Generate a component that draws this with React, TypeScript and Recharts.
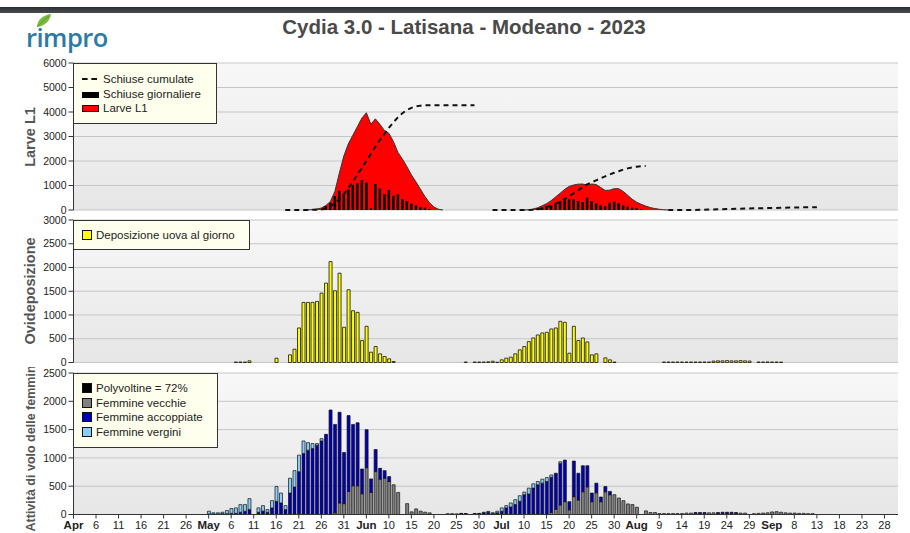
import React from 'react';
import { ComposedChart, Area, Bar, Line, XAxis, YAxis, CartesianGrid } from 'recharts';

// ---- x axis: days counted from 1 April 2023 ----
const DAY_MAX = 183;
const tickDays = [0, 5, 10, 15, 20, 25, 30, 35, 40, 45, 50, 55, 60, 65, 70, 75, 80, 85, 90, 95, 100, 105, 110, 115, 120, 125, 130, 135, 140, 145, 150, 155, 160, 165, 170, 175, 180];
const tickLabels = ['Apr', '6', '11', '16', '21', '26', 'May', '6', '11', '16', '21', '26', '31', 'Jun', '10', '15', '20', '25', '30', 'Jul', '10', '15', '20', '25', '30', 'Aug', '9', '14', '19', '24', '29', 'Sep', '8', '13', '18', '23', '28'];
const monthLabels = ['Apr', 'May', 'Jun', 'Jul', 'Aug', 'Sep'];

// ---- panel 1: Larve L1 ----
const larveTicks = [0, 1000, 2000, 3000, 4000, 5000, 6000];
const larveGen1Start = 51;
const larveGen1 = [0, 5, 15, 40, 80, 180, 340, 750, 1500, 2200, 2700, 3050, 3400, 3750, 3970, 3500, 3720, 3500, 3250, 3130, 2800, 2350, 2080, 1770, 1430, 1150, 850, 550, 300, 120, 30, 0];
const larveGen2Start = 100;
const larveGen2 = [0, 10, 40, 90, 170, 260, 380, 530, 680, 840, 960, 1020, 1055, 1060, 1020, 1060, 1040, 920, 800, 810, 870, 870, 760, 600, 440, 320, 230, 160, 100, 60, 30, 10, 0];

const schiuseGen1Start = 56;
const schiuseGen1 = [163, 300, 571, 789, 653, 844, 1020, 1088, 1224, 1116, 68, 1061, 871, 639, 816, 585, 639, 435, 367, 258, 190, 109, 95, 41, 10];
const schiuseGen2Start = 103;
const schiuseGen2 = [68, 109, 163, 190, 258, 367, 462, 435, 435, 367, 326, 503, 367, 272, 190, 163, 299, 340, 272, 190, 136, 95, 68, 30];

const cumulateGen1Start = 47;
const cumulateGen1 = [0, 0, 0, 0, 0, 5, 10, 15, 25, 60, 150, 280, 450, 650, 900, 1150, 1450, 1700, 2000, 2300, 2580, 2850, 3100, 3350, 3580, 3780, 3950, 4080, 4170, 4230, 4260, 4275, 4280, 4280, 4280, 4280, 4280, 4280, 4280, 4280, 4280, 4280, 4280];
const cumulateGen2Start = 93;
const cumulateGen2 = [0, 0, 0, 0, 0, 0, 0, 0, 5, 15, 30, 60, 110, 180, 260, 340, 450, 560, 680, 800, 930, 1050, 1130, 1210, 1290, 1370, 1450, 1520, 1580, 1650, 1700, 1740, 1770, 1790, 1800];
const cumulateGen3Start = 132;
const cumulateGen3 = [0, 0, 0, 0, 0, 0, 5, 8, 15, 18, 25, 30, 34, 40, 44, 50, 56, 60, 64, 70, 73, 76, 78, 82, 86, 90, 96, 100, 103, 106, 108, 110, 112, 112];

// ---- panel 2: Ovideposizione ----
const uovaTicks = [0, 500, 1000, 1500, 2000, 2500, 3000];
const uovaGen1Start = 36;
const uovaGen1 = [10, 10, 10, 35, null, null, null, null, null, 90, null, null, 161, 280, 727, 1265, 1265, 1265, 1286, 1461, 1671, 2125, 1510, 1881, 741, 1531, 1090, 1055, 462, 762, 217, 336, 182, 126, 77, 21];
const uovaGen2Start = 87;
const uovaGen2 = [10, null, 10, 10, 10, 15, 27, 5, 56, 91, 112, 182, 266, 336, 440, 517, 580, 622, 636, 706, 727, 867, 846, 196, 762, 462, 517, 433, 161, 182, null, 98, 56, 10];
const uovaGen3Start = 131;
const uovaGen3 = [10, 10, 10, 10, 10, 10, 10, 10, 10, 10, 10, 30, 35, 35, 40, 35, 35, 40, 35, 30, null, 10, 10, 12, 10, 10, 8];

// ---- panel 3: Attività di volo delle femmine ----
const voloTicks = [0, 500, 1000, 1500, 2000, 2500];
const voloGen1Start = 30;
const vecchieGen1 = [0, 0, 0, 0, 0, 0, 0, 0, 0, 0, null, 0, 0, 0, 0, 0, 0, 0, 0, 0, 0, 0, 0, 0, 0, 0, 0, 0, 30, 204, 192, 408, 507, 507, 367, 827, 390, 758, 624, 641, 583, 525, 390, null, 192, 47, 99, 58, 41, 29];
const accoppiateGen1 = [10, 10, 10, 15, 15, 20, 20, 40, 58, 90, null, 40, 60, 40, 117, 233, 204, 87, 379, 484, 757, 1078, 1136, 1165, 1224, 1300, 1416, 1847, 1561, 1602, 904, 1340, 1084, 1113, 437, 671, 239, 390, 192, 134, 87, 0, 0, null, 0, 0, 0, 0, 0, 0];
const verginiGen1 = [48, 20, 20, 25, 55, 85, 97, 135, 117, 190, null, 77, 97, 47, 128, 262, 175, 70, 262, 291, 292, 221, 134, 88, 29, 40, 0, 0, 0, 0];
const voloGen2Start = 83;
const vecchieGen2 = [15, 15, 12, 15, 12, null, 10, 10, 0, 0, 0, 0, 0, 0, 0, 0, 0, 0, 0, 0, 0, 0, 0, 35, 93, 169, 227, 82, 315, 256, 402, 489, 227, 384, 227, 402, 350, 350, 291, 245, 187, 175, 128, null, 64, 35, 35, 17, 17, 17, 17, 17, 17, 25, 25, 20, 20, 20, 30, 30, 20, 20, 20, 20, 20, 25, 25, null, 15, 20, 25, 30, 45, 50, 40, 30, 25, 25, 20, 20, 15, 15];
const accoppiateGen2 = [0, 0, 0, 5, 5, null, 8, 10, 30, 40, 20, 30, 58, 117, 134, 175, 233, 350, 361, 466, 524, 554, 583, 624, 636, 734, 734, 145, 629, 473, 460, 373, 152, 170, 82, 93, 58, 0, 0, 0, 0, 0, 0, null, 0, 0, 0, 0, 0, 0, 0, 0, 0, 0, 0, 15, 15, 15, 0, 0, 15, 20, 20, 20, 15, 0, 0, null];
const verginiGen2 = [0, 0, 0, 0, 0, null, 0, 0, 10, 15, 10, 28, 59, 40, 70, 87, 99, 46, 105, 76, 59, 70, 70, 40, 0, 29];

const W = 910;
const H = 533;
const PLOT_RIGHT = 898;
const PLOT_LEFT = 73.5;
const FONT = '"Liberation Sans", Arial, sans-serif';

type Seg = [number, (number | null)[]];

const pick = (d: number, ...segs: Seg[]) => {
  for (const [start, values] of segs) {
    const i = d - start;
    if (i >= 0 && i < values.length) return values[i];
  }
  return null;
};

const rows = Array.from({ length: DAY_MAX + 1 }, (_, d) => ({
  day: d,
  larve: pick(d, [larveGen1Start, larveGen1], [larveGen2Start, larveGen2]),
  schiuse: pick(d, [schiuseGen1Start, schiuseGen1], [schiuseGen2Start, schiuseGen2]) ?? 0,
  cumulate: pick(d, [cumulateGen1Start, cumulateGen1], [cumulateGen2Start, cumulateGen2], [cumulateGen3Start, cumulateGen3]),
  uova: pick(d, [uovaGen1Start, uovaGen1], [uovaGen2Start, uovaGen2], [uovaGen3Start, uovaGen3]) ?? 0,
  vecchie: pick(d, [voloGen1Start, vecchieGen1], [voloGen2Start, vecchieGen2]) ?? 0,
  accoppiate: pick(d, [voloGen1Start, accoppiateGen1], [voloGen2Start, accoppiateGen2]) ?? 0,
  vergini: pick(d, [voloGen1Start, verginiGen1], [voloGen2Start, verginiGen2]) ?? 0,
}));

const DateTick = (props: any) => {
  const { x, y, payload } = props;
  const label = tickLabels[tickDays.indexOf(payload.value)];
  const bold = monthLabels.includes(label);
  return (
    <text x={x} y={y + 8} textAnchor="middle" fontSize={bold ? 11.5 : 11} fontWeight={bold ? 'bold' : 'normal'} fill="#222" fontFamily={FONT}>
      {label}
    </text>
  );
};

interface PanelProps {
  id: string;
  plotTop: number;
  plotBottom: number;
  yTicks: number[];
  showDates?: boolean;
  children: React.ReactNode;
}

const Panel = ({ id, plotTop, plotBottom, yTicks, showDates = false, children }: PanelProps) => {
  const yMax = yTicks[yTicks.length - 1];
  const axisH = showDates ? 18 : 0;
  return (
    <div style={{ position: 'absolute', left: 0, top: 0 }}>
      <ComposedChart
        width={W}
        height={H}
        data={rows}
        margin={{ top: plotTop, right: W - PLOT_RIGHT, bottom: H - plotBottom - axisH, left: 0 }}
      >
        <defs>
          <linearGradient id={`bg-${id}`} x1="0" y1="0" x2="0" y2="1">
            <stop offset="0%" stopColor="#f8f8f8" />
            <stop offset="100%" stopColor="#e6e6e6" />
          </linearGradient>
        </defs>
        <CartesianGrid vertical={false} stroke="#c6c6c6" fill={`url(#bg-${id})`} fillOpacity={1} />
        <XAxis
          dataKey="day"
          type="number"
          domain={[0, DAY_MAX]}
          ticks={tickDays}
          interval={0}
          allowDataOverflow
          height={axisH}
          tick={showDates ? <DateTick /> : false}
          tickLine={showDates ? { stroke: '#333' } : false}
          tickSize={4}
          axisLine={{ stroke: '#333' }}
        />
        <XAxis xAxisId="frame" orientation="top" type="number" domain={[0, DAY_MAX]} height={0} tick={false} tickLine={false} axisLine={{ stroke: '#333' }} />
        <YAxis
          type="number"
          domain={[0, yMax]}
          ticks={yTicks}
          interval={0}
          width={PLOT_LEFT}
          tick={{ fontSize: 10.5, fill: '#222', fontFamily: FONT }}
          tickLine={{ stroke: '#333' }}
          tickSize={5}
          tickMargin={2}
          axisLine={{ stroke: '#333' }}
        />
        <YAxis yAxisId="frame" orientation="right" type="number" domain={[0, yMax]} width={0} tick={false} tickLine={false} axisLine={{ stroke: '#333' }} />
        {children}
      </ComposedChart>
    </div>
  );
};

const legendText: React.CSSProperties = { fontFamily: FONT, fontSize: 11.5, color: '#222', whiteSpace: 'nowrap', lineHeight: '14.5px' };

const LegendBox = ({ left, top, width, height, children }: any) => (
  <div style={{ position: 'absolute', left, top, width, height, boxSizing: 'border-box', background: '#ffffee', border: '1px solid #333' }}>
    {children}
  </div>
);

const Swatch = ({ color }: { color: string }) => (
  <span style={{ display: 'inline-block', width: 8, height: 8, background: color, border: '1px solid #111', marginRight: 4, verticalAlign: -1 }} />
);

const AxisTitle = ({ cx, cy, text, size }: { cx: number; cy: number; text: string; size: number }) => (
  <div
    style={{
      position: 'absolute', left: cx, top: cy, transform: 'translate(-50%, -50%) rotate(-90deg)',
      fontFamily: FONT, fontWeight: 'bold', fontSize: size, color: '#555', whiteSpace: 'nowrap', lineHeight: 1,
    }}
  >
    {text}
  </div>
);

export default function App() {
  return (
    <div style={{ position: 'absolute', left: 0, top: 0, width: W, height: H, background: '#fff', overflow: 'hidden' }}>
      <div style={{ position: 'absolute', left: 0, top: 7, width: W, height: 6, background: 'linear-gradient(#2c2f32, #4a4d50)' }} />

      {/* logo */}
      <svg style={{ position: 'absolute', left: 34, top: 13 }} width={20} height={16}>
        <path d="M3 14 C3 7 9 2 17 1 C16 8 11 13 3 14 Z" fill="#7cb940" />
        <path d="M3 14 C7 10 11 6 15 3" stroke="#5a9a2c" strokeWidth={1} fill="none" />
      </svg>
      <div style={{ position: 'absolute', left: 26, top: 20, fontFamily: '"Open Sans", "Liberation Sans", sans-serif', fontWeight: 600, fontSize: 25.5, color: '#2b7ba4', letterSpacing: -0.5 }}>
        rimpro
      </div>

      <div style={{ position: 'absolute', left: 464, top: 15, transform: 'translateX(-50%)', fontFamily: FONT, fontWeight: 'bold', fontSize: 20.5, color: '#4a4a4a', whiteSpace: 'nowrap' }}>
        Cydia 3.0 - Latisana - Modeano - 2023
      </div>

      <Panel id="larve" plotTop={63} plotBottom={210} yTicks={larveTicks}>
        <Area dataKey="larve" type="linear" fill="#ff0000" fillOpacity={1} stroke="#333" strokeWidth={1} dot={false} activeDot={false} isAnimationActive={false} />
        <Bar dataKey="schiuse" fill="#000" barSize={2.5} isAnimationActive={false} />
        <Line dataKey="cumulate" type="linear" stroke="#111" strokeWidth={2} strokeDasharray="5 4" dot={false} activeDot={false} isAnimationActive={false} />
      </Panel>

      <Panel id="uova" plotTop={220} plotBottom={362.5} yTicks={uovaTicks}>
        <Bar dataKey="uova" fill="#ffff00" stroke="#111" strokeWidth={0.8} barSize={3} isAnimationActive={false} />
      </Panel>

      <Panel id="volo" plotTop={373} plotBottom={514.5} yTicks={voloTicks} showDates>
        <Bar dataKey="vecchie" stackId="f" fill="#808080" stroke="#111" strokeWidth={0.7} barSize={3} isAnimationActive={false} />
        <Bar dataKey="accoppiate" stackId="f" fill="#0000b8" stroke="#111" strokeWidth={0.7} barSize={3} isAnimationActive={false} />
        <Bar dataKey="vergini" stackId="f" fill="#87cefa" stroke="#111" strokeWidth={0.7} barSize={3} isAnimationActive={false} />
      </Panel>

      {/* axis titles */}
      <AxisTitle cx={30} cy={137} text="Larve L1" size={14.5} />
      <AxisTitle cx={30} cy={291} text="Ovideposizione" size={14.5} />
      <div style={{ position: 'absolute', left: 0, top: 367, width: 60, height: 166, overflow: 'hidden' }}>
        <AxisTitle cx={31} cy={78} text="Attività di volo delle femmine" size={12.5} />
      </div>

      {/* legends */}
      <LegendBox left={73} top={63} width={144} height={61}>
        <div style={{ ...legendText, position: 'absolute', left: 8, top: 8 }}>
          <div>
            <span style={{ display: 'inline-block', width: 15, marginRight: 6, verticalAlign: 3, borderTop: '2.5px dashed #111' }} />
            Schiuse cumulate
          </div>
          <div>
            <span style={{ display: 'inline-block', width: 17, height: 6, background: '#000', marginRight: 4, verticalAlign: 0 }} />
            Schiuse giornaliere
          </div>
          <div>
            <span style={{ display: 'inline-block', width: 15, height: 5, background: '#ff0000', border: '1px solid #111', marginRight: 4, verticalAlign: 0 }} />
            Larve L1
          </div>
        </div>
      </LegendBox>

      <LegendBox left={73} top={220} width={177} height={30}>
        <div style={{ ...legendText, position: 'absolute', left: 8, top: 7 }}>
          <Swatch color="#ffff00" />
          Deposizione uova al giorno
        </div>
      </LegendBox>

      <LegendBox left={73} top={373} width={145} height={75}>
        <div style={{ ...legendText, position: 'absolute', left: 8, top: 7 }}>
          <div><Swatch color="#000" />Polyvoltine = 72%</div>
          <div><Swatch color="#808080" />Femmine vecchie</div>
          <div><Swatch color="#0000b8" />Femmine accoppiate</div>
          <div><Swatch color="#87cefa" />Femmine vergini</div>
        </div>
      </LegendBox>
    </div>
  );
}
